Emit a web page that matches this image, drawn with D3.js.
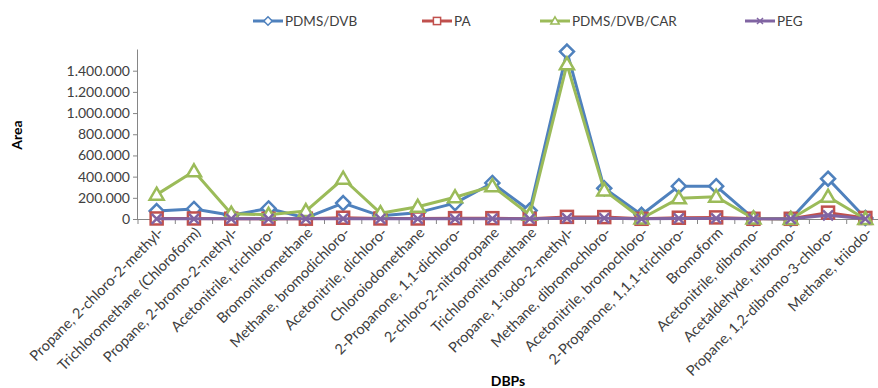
<!DOCTYPE html>
<html>
<head>
    <meta charset="utf-8">
    <title>DBPs Area</title>
    <style>
        body { margin: 0; background: #ffffff; }
        #chart { display: block; }
        text { font-family: Lato, "Open Sans", sans-serif; fill: #404040; }
    </style>
    <script src="https://d3js.org/d3.v7.min.js"></script>
</head>
<body>
    <svg id="chart" width="878" height="388"></svg>
    <script>
        // data
        var categories = [
            "Propane, 2-chloro-2-methyl-", "Trichloromethane (Chloroform)", "Propane, 2-bromo-2-methyl-",
            "Acetonitrile, trichloro-", "Bromonitromethane", "Methane, bromodichloro-",
            "Acetonitrile, dichloro-", "Chloroiodomethane", "2-Propanone, 1,1-dichloro-",
            "2-chloro-2-nitropropane", "Trichloronitromethane", "Propane, 1-iodo-2-methyl-",
            "Methane, dibromochloro-", "Acetonitrile, bromochloro-", "2-Propanone, 1,1,1-trichloro-",
            "Bromoform", "Acetonitrile, dibromo-", "Acetaldehyde, tribromo-",
            "Propane, 1,2-dibromo-3-chloro-", "Methane, triiodo-"
        ];
        var pdmsDvb    = [75000, 95000, 35000, 100000, 10000, 150000, 30000, 60000, 150000, 340000, 80000, 1580000, 290000, 40000, 310000, 310000, 5000, 0, 380000, 10000];
        var pa         = [5000, 5000, 3000, 3000, 3000, 12000, 5000, 5000, 8000, 8000, 2000, 20000, 18000, 2000, 12000, 15000, 2000, 2000, 60000, 10000];
        var pdmsDvbCar = [230000, 450000, 50000, 40000, 75000, 380000, 55000, 115000, 205000, 310000, 40000, 1460000, 270000, 5000, 195000, 210000, 5000, 0, 210000, 0];
        var peg        = [2000, 2000, 2000, 2000, 2000, 3000, 2000, 2000, 2000, 3000, 2000, 8000, 8000, 2000, 5000, 5000, 2000, 2000, 35000, 2000];
        var yTicks = [0, 200000, 400000, 600000, 800000, 1000000, 1200000, 1400000];

        var series = [
            { name: "PDMS/DVB", values: pdmsDvb, color: "#4F81BD", marker: "diamond" },
            { name: "PA", values: pa, color: "#C0504D", marker: "square" },
            { name: "PDMS/DVB/CAR", values: pdmsDvbCar, color: "#9BBB59", marker: "triangle" },
            { name: "PEG", values: peg, color: "#8064A2", marker: "cross" }
        ];

        var svg = d3.select("#chart");
        var plotLeft = 138, plotRight = 884, plotBottom = 219, plotTop = 49.5;

        var x = d3.scaleBand().domain(categories).range([plotLeft, plotRight]);
        var y = d3.scaleLinear().domain([0, 1600000]).range([plotBottom, plotTop]);
        var fmt = d3.formatLocale({ decimal: ",", thousands: ".", grouping: [3], currency: ["", ""] }).format(",d");

        function cx(c) { return x(c) + x.bandwidth() / 2; }

        // marker shapes
        function drawMarker(g, type, px, py, color) {
            var s = 6;
            if (type == "diamond") {
                g.append("path")
                    .attr("d", "M" + px + "," + (py - s - 1) + "L" + (px + s + 1) + "," + py + "L" + px + "," + (py + s + 1) + "L" + (px - s - 1) + "," + py + "Z")
                    .attr("fill", "#ffffff").attr("stroke", color).attr("stroke-width", 2.5);
            } else if (type == "square") {
                g.append("rect")
                    .attr("x", px - s).attr("y", py - s).attr("width", 2 * s).attr("height", 2 * s)
                    .attr("fill", "#ffffff").attr("stroke", color).attr("stroke-width", 2.5);
            } else if (type == "triangle") {
                g.append("path")
                    .attr("d", "M" + px + "," + (py - s - 1) + "L" + (px + s + 1) + "," + (py + s - 1) + "L" + (px - s - 1) + "," + (py + s - 1) + "Z")
                    .attr("fill", "#ffffff").attr("stroke", color).attr("stroke-width", 2.5);
            } else {
                g.append("path")
                    .attr("d", "M" + (px - s + 1) + "," + (py - s + 1) + "L" + (px + s - 1) + "," + (py + s - 1) +
                               "M" + (px + s - 1) + "," + (py - s + 1) + "L" + (px - s + 1) + "," + (py + s - 1))
                    .attr("fill", "none").attr("stroke", color).attr("stroke-width", 2.5);
            }
        }

        // y axis
        var yAxis = svg.append("g")
            .attr("transform", "translate(" + plotLeft + ",0)")
            .call(d3.axisLeft(y).tickValues(yTicks).tickFormat(fmt).tickSize(5).tickPadding(3));
        yAxis.select(".domain").attr("d", "M-0.5," + plotTop + "V" + plotBottom).attr("stroke", "#868686");
        yAxis.selectAll(".tick line").attr("stroke", "#868686");
        yAxis.selectAll(".tick text").style("font-size", "14px").attr("fill", "#404040").attr("font-family", null);

        // x axis
        var xAxisG = svg.append("g").attr("transform", "translate(0," + plotBottom + ")");
        xAxisG.append("line").attr("x1", plotLeft).attr("x2", plotRight).attr("y1", 0.5).attr("y2", 0.5).attr("stroke", "#868686");
        xAxisG.selectAll(".xtick").data(categories.concat([null])).enter().append("line")
            .attr("x1", function(d, i) { return plotLeft + i * x.step(); })
            .attr("x2", function(d, i) { return plotLeft + i * x.step(); })
            .attr("y1", 0).attr("y2", 5).attr("stroke", "#868686");

        xAxisG.selectAll(".xlab").data(categories).enter().append("text")
            .attr("transform", function(d) { return "translate(" + (cx(d) + 4) + ",11) rotate(-45)"; })
            .attr("text-anchor", "end")
            .attr("dy", "0.35em")
            .style("font-size", "14.5px")
            .text(function(d) { return d; });

        // axis titles
        svg.append("text")
            .attr("transform", "translate(22,135) rotate(-90)")
            .attr("text-anchor", "middle")
            .style("font-size", "14px").style("font-weight", "bold")
            .style("fill", "#000000")
            .text("Area");
        svg.append("text")
            .attr("x", 508).attr("y", 386)
            .attr("text-anchor", "middle")
            .style("font-size", "14px").style("font-weight", "bold")
            .style("fill", "#000000")
            .text("DBPs");

        // lines and markers
        var line = d3.line()
            .x(function(d, i) { return cx(categories[i]); })
            .y(function(d) { return y(d); });

        series.forEach(function(s) {
            var g = svg.append("g");
            g.append("path")
                .attr("d", line(s.values))
                .attr("fill", "none")
                .attr("stroke", s.color)
                .attr("stroke-width", 3)
                .attr("stroke-linejoin", "round");
            s.values.forEach(function(v, i) {
                drawMarker(g, s.marker, cx(categories[i]), y(v), s.color);
            });
        });

        // legend
        var legendX = [253, 422, 540, 745];
        series.forEach(function(s, i) {
            var lg = svg.append("g").attr("transform", "translate(" + legendX[i] + ",21)");
            lg.append("line").attr("x1", 0).attr("x2", 30).attr("y1", 0).attr("y2", 0)
                .attr("stroke", s.color).attr("stroke-width", 3);
            var mg = lg.append("g").attr("transform", "translate(15,0) scale(0.6)");
            drawMarker(mg, s.marker, 0, 0, s.color);
            lg.append("text").attr("x", 32).attr("y", 0).attr("dy", "0.35em")
                .style("font-size", "13.5px")
                .text(s.name);
        });
    </script>
</body>
</html>
